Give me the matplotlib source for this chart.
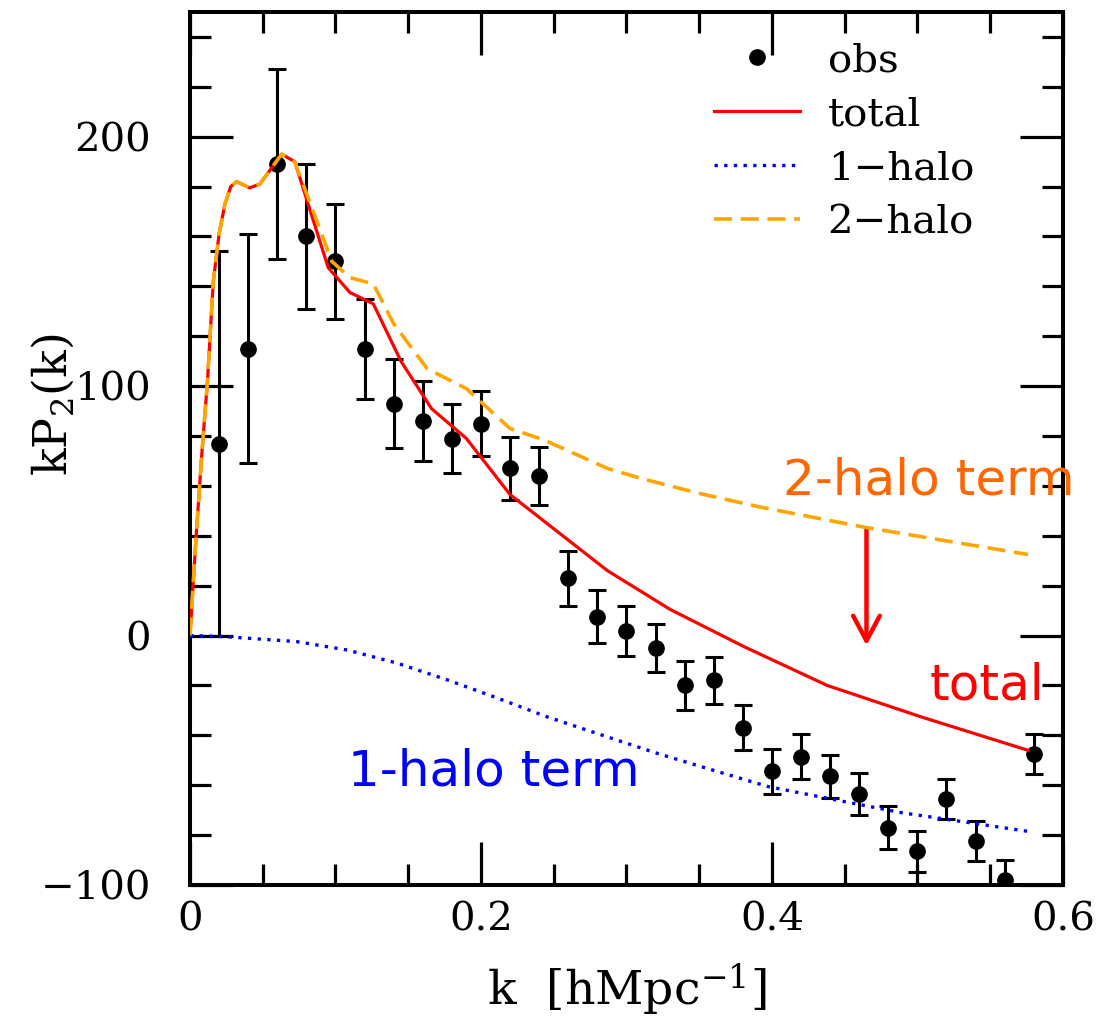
"""kP2(k) quadrupole: observed points against the halo-model total, 1-halo and 2-halo terms."""
import matplotlib
matplotlib.use("Agg")
import matplotlib.pyplot as plt
from matplotlib.lines import Line2D
from matplotlib.ticker import MultipleLocator, FuncFormatter

# observed quadrupole
obs_k = [0.02, 0.04, 0.06, 0.08, 0.10, 0.12, 0.14, 0.16, 0.18, 0.20,
         0.22, 0.24, 0.26, 0.28, 0.30, 0.32, 0.34, 0.36, 0.38, 0.40,
         0.42, 0.44, 0.46, 0.48, 0.50, 0.52, 0.54, 0.56, 0.58]
obs_p = [77, 115, 189, 160, 150, 115, 93, 86, 79, 85,
         67, 64, 23, 7.5, 2, -5, -20, -18, -37, -54.5,
         -48.5, -56.5, -63.5, -77, -86.5, -65.5, -82.5, -98, -47.5]
obs_err = [77, 46, 38, 29, 23, 20, 18, 16, 14, 13,
           12.5, 11.5, 11, 10.6, 10, 9.8, 9.7, 9.4, 9, 9,
           9, 8.7, 8.5, 8.5, 8.2, 8, 8, 8, 8]

# model curves
total_k = [0, 0.004, 0.008, 0.012, 0.016, 0.020, 0.024, 0.028, 0.032, 0.041,
           0.048, 0.063, 0.072, 0.095, 0.110, 0.126, 0.145, 0.166, 0.190, 0.220,
           0.287, 0.330, 0.381, 0.438, 0.502, 0.576]
total_p = [0, 38, 72, 102, 142, 161, 173, 180, 182, 179.5,
           181, 193, 190, 147.5, 137.5, 133, 110, 91, 79, 56.5,
           26, 10.5, -4.5, -20, -32.5, -46]

twohalo_k = [0, 0.004, 0.008, 0.012, 0.016, 0.020, 0.024, 0.028, 0.032, 0.041,
             0.048, 0.063, 0.072, 0.0975, 0.110, 0.126, 0.140, 0.163, 0.190, 0.220,
             0.243, 0.287, 0.310, 0.350, 0.392, 0.463, 0.576]
twohalo_p = [0, 38, 72, 102, 142, 161, 173, 180, 182, 179.5,
             181, 193, 190, 150, 143.5, 141, 125, 107, 99, 83,
             78.5, 67, 63, 57, 51.5, 43.5, 32.5]

onehalo_k = [0, 0.023, 0.073, 0.108, 0.142, 0.177, 0.211, 0.245, 0.280, 0.321,
             0.351, 0.397, 0.443, 0.489, 0.576]
onehalo_p = [0, -0.4, -2.4, -5.8, -11, -17.8, -25, -32.5, -39.3, -47.2,
             -52.5, -60.5, -65.8, -71, -78.5]

# arrow from the 2-halo curve down towards the total
arrow_k = 0.465
arrow_from = 42.5
arrow_to = -4

plt.rcParams["font.family"] = "DejaVu Serif"
plt.rcParams["mathtext.fontset"] = "dejavuserif"

fig = plt.figure(figsize=(11.06, 10.27), dpi=100)
ax = fig.add_axes([0.1718, 0.1383, 0.7892, 0.85])

ax.errorbar(obs_k, obs_p, yerr=obs_err, fmt="o", color="black", ms=11,
            elinewidth=2.2, capsize=6.5, capthick=2.2, zorder=2)
ax.plot(total_k, total_p, color="#ff0000", lw=2.3, zorder=3)
ax.plot(onehalo_k, onehalo_p, color="#0000ff", lw=2.4, dashes=(1, 1.9), zorder=3)
ax.plot(twohalo_k, twohalo_p, color="#ffa500", lw=2.6, dashes=(5, 2.4), zorder=4)

ax.annotate("", xy=(arrow_k, arrow_to), xytext=(arrow_k, arrow_from),
            arrowprops=dict(arrowstyle="->,head_length=0.75,head_width=0.4",
                            mutation_scale=24, color="#ff0000", lw=3.2,
                            shrinkA=0, shrinkB=0))

note_font = dict(family="DejaVu Sans", fontsize=36, ha="center", va="center")
ax.text(0.508, 62, "2-halo term", color="#ff6600", **note_font)
ax.text(0.548, -20, "total", color="#ff0000", **note_font)
ax.text(0.209, -54.5, "1-halo term", color="#0000ff", **note_font)

ax.set_xlim(0, 0.6)
ax.set_ylim(-100, 250)
ax.xaxis.set_major_locator(MultipleLocator(0.2))
ax.xaxis.set_minor_locator(MultipleLocator(0.05))
ax.yaxis.set_major_locator(MultipleLocator(100))
ax.yaxis.set_minor_locator(MultipleLocator(20))
ax.xaxis.set_major_formatter(FuncFormatter(lambda v, _: "0" if v == 0 else f"{v:.1f}"))
ax.tick_params(which="both", direction="in", top=True, right=True,
               labelsize=29, width=2.3)
ax.tick_params(axis="x", pad=12)
ax.tick_params(axis="y", pad=28)
ax.tick_params(which="major", length=31)
ax.tick_params(which="minor", length=15)
for sp in ax.spines.values():
    sp.set_linewidth(2.9)

ax.set_xlabel("k  [hMpc$^{-1}$]", fontsize=34)
ax.set_ylabel("kP$_2$(k)", fontsize=33)
ax.xaxis.set_label_coords(0.5, -0.088)
ax.yaxis.set_label_coords(-0.13, 0.55)

handles = [
    Line2D([], [], color="black", marker="o", ls="none", ms=11),
    Line2D([], [], color="#ff0000", lw=2.3),
    Line2D([], [], color="#0000ff", lw=2.4, dashes=(1, 1.9)),
    Line2D([], [], color="#ffa500", lw=2.6, dashes=(5, 2.4)),
]
labels = ["obs", "total", "1\u2212halo", "2\u2212halo"]
ax.legend(handles, labels, loc="upper left", bbox_to_anchor=(0.6, 0.965),
          frameon=False, fontsize=29, handlelength=2.15, handletextpad=0.68,
          labelspacing=0.42, borderpad=0, borderaxespad=0)

fig.savefig("out.png", dpi=100)
